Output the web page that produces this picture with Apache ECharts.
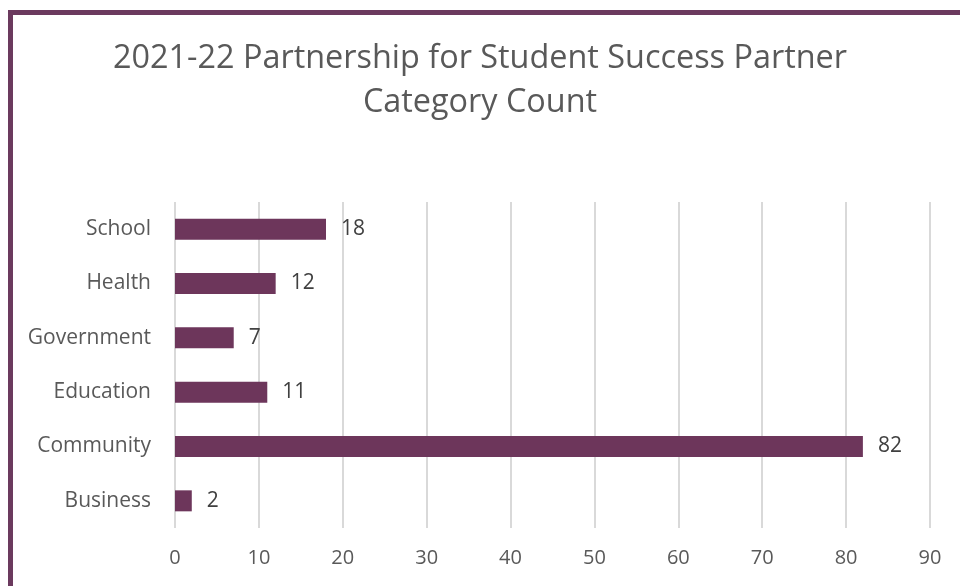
<!DOCTYPE html>
<html>
<head>
<meta charset="utf-8">
<script src="https://cdn.jsdelivr.net/npm/echarts@6/dist/echarts.min.js"></script>
<style>html,body{margin:0;padding:0;background:#fff;}#c{width:960px;height:586px;}</style>
</head>
<body>
<div id="c"></div>
<script>
const categories = ["Business", "Community", "Education", "Government", "Health", "School"];
const counts = [2, 82, 11, 7, 12, 18];
const xTicks = { min: 0, max: 90, interval: 10 };
const titleText = "2021-22 Partnership for Student Success Partner\nCategory Count";

const chart = echarts.init(document.getElementById('c'), null, { renderer: 'canvas' });
chart.setOption({
  backgroundColor: '#ffffff',
  animation: false,
  graphic: [{
    type: 'rect',
    shape: { x: 10.5, y: 12.5, width: 1000, height: 1000 },
    style: { fill: 'none', stroke: '#6B3A5E', lineWidth: 5 },
    silent: true
  }],
  title: {
    text: titleText,
    left: 'center',
    top: 32,
    textStyle: { fontFamily: 'Open Sans', fontSize: 32.4, fontWeight: 'normal', color: '#595959', lineHeight: 44 }
  },
  grid: { left: 175, right: 30, top: 202, bottom: 58, containLabel: false },
  xAxis: {
    type: 'value',
    min: xTicks.min, max: xTicks.max, interval: xTicks.interval,
    axisLine: { show: false },
    axisTick: { show: false },
    splitLine: { show: true, lineStyle: { color: '#d9d9d9', width: 2 } },
    axisLabel: { fontFamily: 'Open Sans', fontSize: 20, color: '#595959', margin: 20 }
  },
  yAxis: {
    type: 'category',
    data: categories,
    axisLine: { show: false },
    axisTick: { show: false },
    axisLabel: { fontFamily: 'Open Sans', fontSize: 21, color: '#595959', margin: 24 }
  },
  series: [{
    type: 'bar',
    data: counts,
    barWidth: 21,
    itemStyle: { color: '#6D365B' },
    label: { show: true, position: 'right', distance: 15, fontFamily: 'Open Sans', fontSize: 21, color: '#404040' }
  }]
});
</script>
</body>
</html>
